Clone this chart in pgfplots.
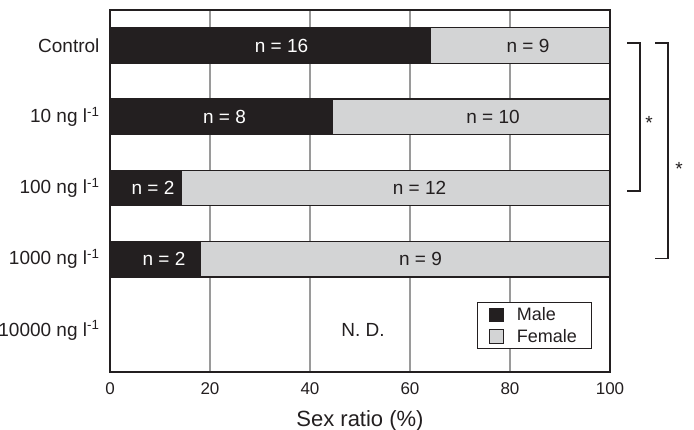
\documentclass[border=0pt]{standalone}
\usepackage{fontspec}
\setmainfont{Liberation Sans}
\usepackage{pgfplots}
\pgfplotsset{compat=1.18}
\definecolor{dk}{HTML}{231F20}
\definecolor{lg}{HTML}{D3D4D5}
\definecolor{gr}{HTML}{9A9A9A}
\pgfplotsset{
  sqlegend/.style={legend image code/.code={\draw[##1, line width=1pt] (0pt,-6.8pt) rectangle (13.6pt,6.8pt);}},
}
\begin{document}
\begin{tikzpicture}
\begin{axis}[
  at={(0,0)}, anchor=south west,
  width=500pt, height=362pt, scale only axis,
  xbar stacked, bar width=0.5,
  xmin=0, xmax=100, ymin=-0.586, ymax=4.5,
  xtick={0,20,40,60,80,100}, ytick={0,1,2,3,4},
  yticklabels={10000 ng l\textsuperscript{-1}, 1000 ng l\textsuperscript{-1}, 100 ng l\textsuperscript{-1}, 10 ng l\textsuperscript{-1}, Control},
  major tick length=0pt,
  xmajorgrids, grid style={gr, line width=1.2pt},
  axis line style={dk, line width=1.8pt},
  clip=false,
  /pgf/number format/assume math mode=true,
  xticklabel style={font=\fontsize{17}{20}\selectfont, text=dk, yshift=-7pt},
  yticklabel style={font=\fontsize{19}{22}\selectfont, text=dk, xshift=-7pt},
  xlabel={Sex ratio (\%)},
  xlabel style={font=\fontsize{22}{26}\selectfont, text=dk, yshift=-9pt},
  legend style={at={(0.963,0.0627)}, anchor=south east, draw=dk, line width=1pt,
    font=\fontsize{18}{20}\selectfont, text=dk, inner xsep=12pt, inner ysep=3pt, row sep=3pt,
    /tikz/every odd column/.append style={column sep=11pt}},
  legend cell align=left,
]
\addplot[fill=dk, draw=dk, line width=1.2pt, sqlegend]
  coordinates {(64,4) (44.44,3) (14.29,2) (18.18,1)};
\addlegendentry{Male}
\addplot[fill=lg, draw=dk, line width=1.2pt, sqlegend]
  coordinates {(36,4) (55.56,3) (85.71,2) (81.82,1)};
\addlegendentry{Female}

\coordinate (m4) at (axis cs:34.3,4);
\coordinate (f4) at (axis cs:83.6,4);
\coordinate (m3) at (axis cs:22.9,3);
\coordinate (f3) at (axis cs:76.6,3);
\coordinate (m2) at (axis cs:8.6,2);
\coordinate (f2) at (axis cs:61.9,2);
\coordinate (m1) at (axis cs:10.8,1);
\coordinate (f1) at (axis cs:62.1,1);
\node[font=\fontsize{19}{22}\selectfont, text=dk] at (axis cs:50.6,0) {N. D.};
\node[font=\fontsize{19}{22}\selectfont, text=dk, anchor=base] at (axis cs:107.8,2.822) {*};
\node[font=\fontsize{19}{22}\selectfont, text=dk, anchor=base] at (axis cs:113.8,2.176) {*};
\draw[dk, line width=1.2pt] (axis cs:103.4,4.035) -- (axis cs:106,4.035) -- (axis cs:106,1.956) -- (axis cs:103.4,1.956);
\draw[dk, line width=1.2pt] (axis cs:109,4.035) -- (axis cs:111.6,4.035) -- (axis cs:111.6,1.011) -- (axis cs:109,1.011);
\end{axis}
\begin{scope}[every node/.style={font=\fontsize{19}{22}\selectfont}]
\node[text=white] at (m4) {n = 16};
\node[text=dk] at (f4) {n = 9};
\node[text=white] at (m3) {n = 8};
\node[text=dk] at (f3) {n = 10};
\node[text=white] at (m2) {n = 2};
\node[text=dk] at (f2) {n = 12};
\node[text=white] at (m1) {n = 2};
\node[text=dk] at (f1) {n = 9};
\end{scope}
\pgfresetboundingbox
\useasboundingbox (-110pt,-58pt) rectangle (584pt,372pt);
\end{tikzpicture}
\end{document}
